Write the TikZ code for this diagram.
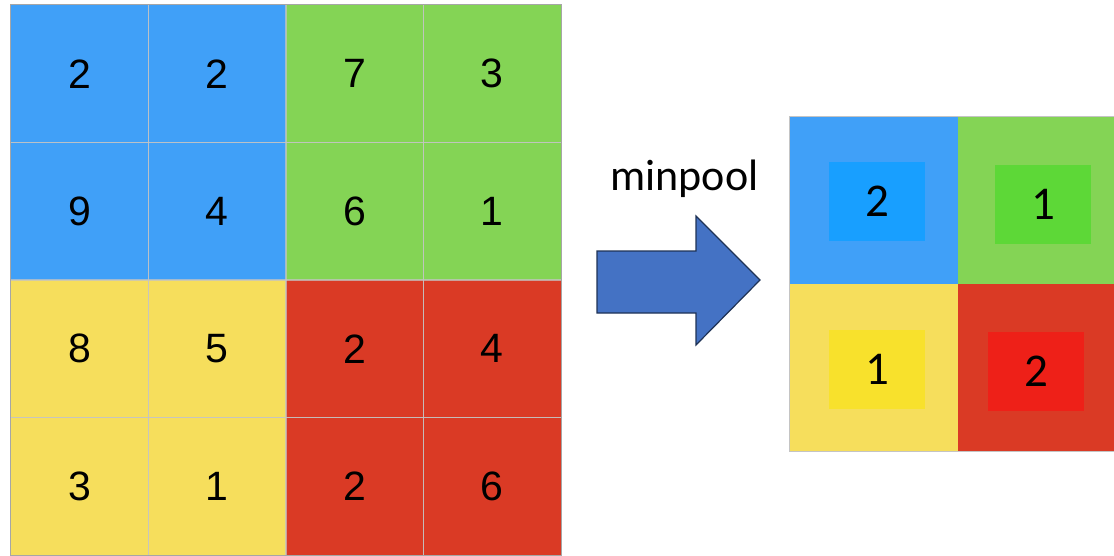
\documentclass[tikz,border=0pt]{standalone}
\usepackage{fontspec}
\setmainfont{Carlito}
\newfontfamily\helv{Liberation Sans}
\definecolor{lblue}{HTML}{40A0F8}
\definecolor{lgreen}{HTML}{84D455}
\definecolor{lyellow}{HTML}{F6DE5C}
\definecolor{lred}{HTML}{DA3A25}
\definecolor{iblue}{HTML}{189FFF}
\definecolor{igreen}{HTML}{5DD837}
\definecolor{iyellow}{HTML}{F8E12C}
\definecolor{ired}{HTML}{EE2018}
\definecolor{gridline}{HTML}{C4C4C4}
\definecolor{arrowfill}{HTML}{4472C4}
\definecolor{arrowline}{HTML}{1F3356}
\tikzset{
  cell/.style={minimum width=137.5pt, minimum height=137.5pt, inner sep=0pt, font=\helv\fontsize{41}{41}\selectfont, text=black},
  cellline/.style={draw=gridline, draw opacity=0.75, line width=1pt},
  pcell/.style={minimum width=168pt, minimum height=167pt, inner sep=0pt},
  inner/.style={minimum width=96pt, minimum height=79pt, inner sep=0pt, font=\fontsize{47}{47}\selectfont, text=black},
}
\begin{document}
\begin{tikzpicture}[x=1pt,y=-1pt]
\useasboundingbox (0,0) rectangle (1114,555);
% left grid
\node[cell, fill=lblue]   (a11) at (79.75,73.75)  {2};
\node[cell, fill=lblue]   (a12) at (217.25,73.75) {2};
\node[cell, fill=lgreen]  (a13) at (354.75,73.75) {7};
\node[cell, fill=lgreen]  (a14) at (492.25,73.75) {3};
\node[cell, fill=lblue]   (a21) at (79.75,211.25)  {9};
\node[cell, fill=lblue]   (a22) at (217.25,211.25) {4};
\node[cell, fill=lgreen]  (a23) at (354.75,211.25) {6};
\node[cell, fill=lgreen]  (a24) at (492.25,211.25) {1};
\node[cell, fill=lyellow] (a31) at (79.75,348.75)  {8};
\node[cell, fill=lyellow] (a32) at (217.25,348.75) {5};
\node[cell, fill=lred]    (a33) at (354.75,348.75) {2};
\node[cell, fill=lred]    (a34) at (492.25,348.75) {4};
\node[cell, fill=lyellow] (a41) at (79.75,486.25)  {3};
\node[cell, fill=lyellow] (a42) at (217.25,486.25) {1};
\node[cell, fill=lred]    (a43) at (354.75,486.25) {2};
\node[cell, fill=lred]    (a44) at (492.25,486.25) {6};
\foreach \n in {a11,a12,a13,a14,a21,a22,a23,a24,a31,a32,a33,a34,a41,a42,a43,a44}
  \draw[cellline] (\n.north west) rectangle (\n.south east);
\draw[gray!70, line width=0.8pt] (a11.north west) rectangle (a44.south east);
% label and arrow
\node[anchor=base, font=\fontsize{44}{44}\selectfont] (lbl) at (684.5,190) {minpool};
\draw[arrowline, fill=arrowfill, line width=1.2pt, line join=miter]
  (597,251) -- (696,251) -- (696,216) -- (760,280) -- (696,345) -- (696,313) -- (597,313) -- cycle;
% right grid
\node[pcell, fill=lblue]   (b11) at (874,200.5) {};
\node[pcell, fill=lgreen]  (b12) at (1042,200.5) {};
\node[pcell, fill=lyellow] (b21) at (874,367.5) {};
\node[pcell, fill=lred]    (b22) at (1042,367.5) {};
\draw[gridline, line width=1pt] (b11.north west) rectangle (b22.south east);
\node[inner, fill=iblue]   (c11) at (877,201.5)  {2};
\node[inner, fill=igreen]  (c12) at (1043,204.5) {1};
\node[inner, fill=iyellow] (c21) at (877,369.5)  {1};
\node[inner, fill=ired]    (c22) at (1036,371.5) {2};
\end{tikzpicture}
\end{document}
